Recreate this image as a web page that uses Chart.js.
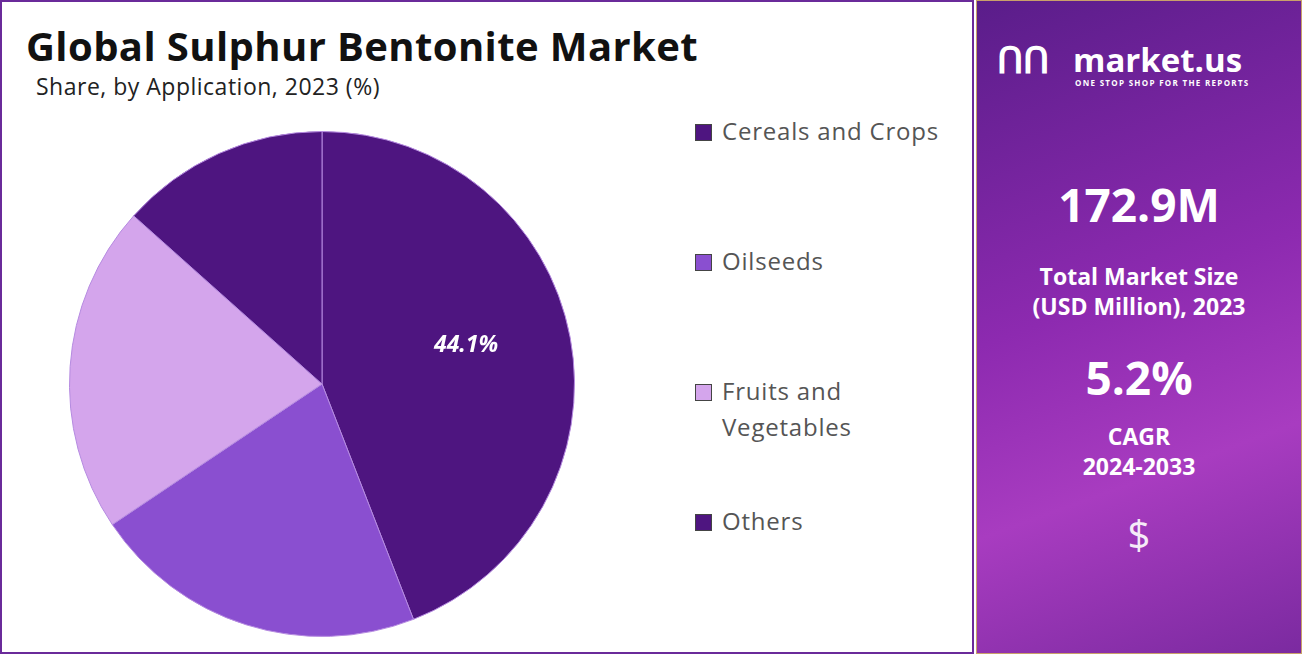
<!DOCTYPE html>
<html><head><meta charset="utf-8">
<script src="https://cdn.jsdelivr.net/npm/chart.js@4"></script>
<style>
body{margin:0;width:1302px;height:661px;background:#fff;font-family:"Open Sans",sans-serif;overflow:hidden;position:relative}
#left{position:absolute;left:0;top:0;width:970px;height:650px;border:2px solid #6a2a9a;}
#title{position:absolute;left:24px;top:16px;font:700 40px "Open Sans",sans-serif;color:#111;letter-spacing:0.4px}
#sub{position:absolute;left:34px;top:68px;font:400 23px "Open Sans",sans-serif;color:#222;letter-spacing:0.5px}
#cw{position:absolute;left:47px;top:109px;width:546px;height:546px}
.lg{position:absolute;left:695px;font:400 24px "Open Sans",sans-serif;color:#555;line-height:36px;letter-spacing:0.8px;padding-left:27px}
.lg i{position:absolute;left:0;top:11px;width:15px;height:15px;border:1.5px solid #444}
#right{position:absolute;left:976px;top:0;width:326px;height:654px;background:linear-gradient(160deg,#5a1d8a 0%,#8d2ab0 45%,#a83cc0 70%,#7b2aa0 100%);color:#fff;text-align:center;font-family:"Open Sans",sans-serif;border:1px solid #c9a06a;box-sizing:border-box}
.big{font-weight:700;font-size:46px}
.mid{font-weight:700;font-size:23px;line-height:30px}
</style></head><body>
<div id="left">
<div id="title">Global Sulphur Bentonite Market</div>
<div id="sub">Share, by Application, 2023 (%)</div>
<div id="cw"><canvas id="c"></canvas></div>
</div>
<div id="legend"></div>
<div id="right">
<div style="position:absolute;left:20px;top:34px;font:700 36px 'Open Sans';">ՈՈ</div>
<div style="position:absolute;left:96px;top:36px;font:700 33px 'Open Sans';">market.us</div>
<div style="position:absolute;left:98px;top:76px;font:700 8px 'Open Sans';letter-spacing:1.3px">ONE STOP SHOP FOR THE REPORTS</div>
<div class="big" style="position:absolute;width:100%;top:172px">172.9M</div>
<div class="mid" style="position:absolute;width:100%;top:260px">Total Market Size<br>(USD Million), 2023</div>
<div class="big" style="position:absolute;width:100%;top:345px">5.2%</div>
<div class="mid" style="position:absolute;width:100%;top:420px">CAGR<br>2024-2033</div>
<div style="position:absolute;width:100%;top:505px;font-size:40px;opacity:.9">$</div>
</div>
<script>
const categories=["Cereals and Crops","Oilseeds","Fruits and\nVegetables","Others"];
const values=[44.1,21.5,21.0,13.4];
const colors=["#4e1580","#8a4fd0","#d4a5ec","#4e1580"];
const legendTops=[113,243,373,503];
const lg=document.getElementById('legend');
categories.forEach((c,i)=>{const d=document.createElement('div');d.className='lg';d.style.top=legendTops[i]+'px';d.innerHTML='<i style="background:'+colors[i]+'"></i>'+c.replace('\n','<br>');lg.appendChild(d);});
const lbl={id:'lbl',afterDatasetsDraw(ch){const ctx=ch.ctx;const a=ch.getDatasetMeta(0).data[0];const p=a.tooltipPosition();ctx.save();ctx.font='italic 700 23px "Open Sans"';ctx.fillStyle='#fff';ctx.textAlign='center';ctx.textBaseline='middle';ctx.fillText(values[0]+'%',p.x+20,p.y-15);ctx.restore();}};
new Chart(document.getElementById('c'),{type:'pie',data:{labels:categories,datasets:[{data:values,backgroundColor:colors,borderColor:"#b58ae0",borderWidth:1}]},
options:{responsive:true,maintainAspectRatio:false,animation:false,layout:{padding:20},plugins:{legend:{display:false},tooltip:{enabled:false}}},plugins:[lbl]});
</script>
</body></html>
